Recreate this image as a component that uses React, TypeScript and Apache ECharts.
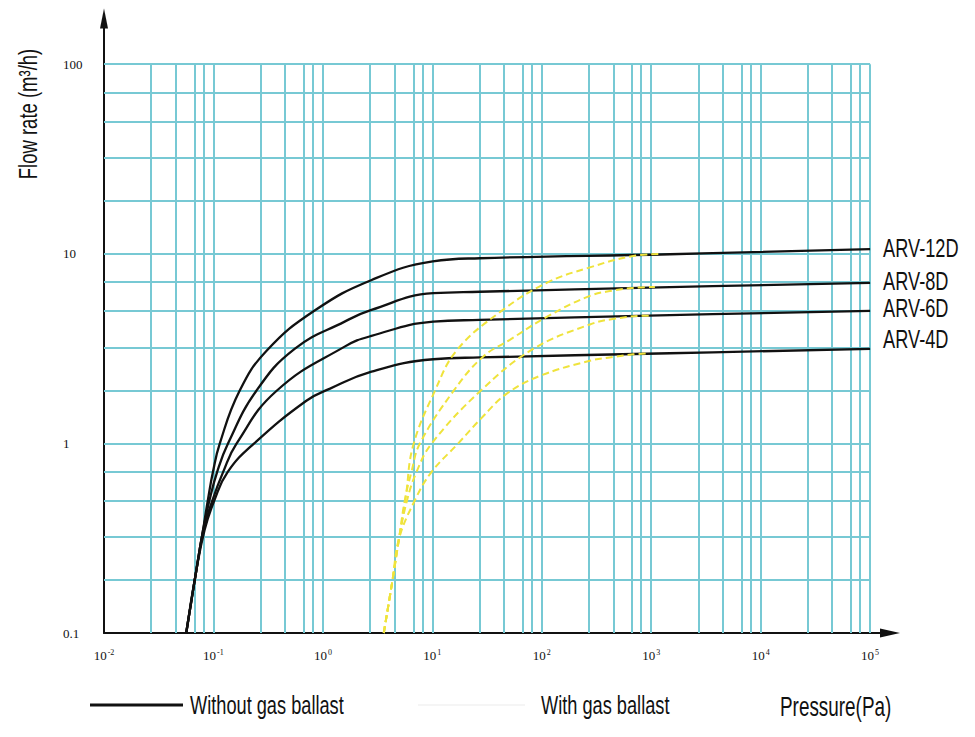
import React, { useEffect, useRef } from 'react';
import * as echarts from 'echarts';

// ---- tick labels ----
const xTickExponents = [-2, -1, 0, 1, 2, 3, 4, 5];
const yTickValues = [0.1, 1, 10, 100];
const yTickLabels = ['0.1', '1', '10', '100'];

// ---- grid (paper) lines ----
const xGridMultipliers = [2.7, 4.5, 6.7, 8.1, 10];
const xGridDecades = [0.01, 0.1, 1, 10, 100, 1000, 10000];
const yGridMultipliers = [1.9, 3.2, 5, 7.1, 10];
const yGridDecades = [0.1, 1, 10];

// ---- axis ranges ----
const xMin = 0.01;
const xGridMax = 100000;
const xMax = 152000; // room for the arrow
const yMin = 0.1;
const yGridMax = 100;
const yMax = 174.3; // room for the arrow

// ---- series ----
const models = ['ARV-12D', 'ARV-8D', 'ARV-6D', 'ARV-4D'];
const legendNames = ['Without gas ballast', 'With gas ballast'];

// Without gas ballast: [pressure Pa, flow rate m3/h]
const without12D: number[][] = [
  [0.0564, 0.1], [0.0687, 0.203], [0.0796, 0.338], [0.089, 0.504], [0.0989, 0.706],
  [0.114, 0.995], [0.173, 1.89], [0.306, 3.08], [0.841, 5.02], [2.79, 7.28],
  [10.1, 9.12], [27.2, 9.48], [1483, 9.95], [100000, 10.6],
];
const without8D: number[][] = [
  [0.0564, 0.1], [0.0687, 0.203], [0.0796, 0.338], [0.0922, 0.504], [0.108, 0.706],
  [0.1355, 0.995], [0.246, 1.89], [0.552, 3.15], [1.58, 4.39], [2.78, 5.06],
  [10.2, 6.2], [27.2, 6.31], [1483, 6.67], [100000, 7.03],
];
const without6D: number[][] = [
  [0.0564, 0.1], [0.0687, 0.203], [0.0812, 0.35], [0.0982, 0.504], [0.1225, 0.706],
  [0.162, 0.995], [0.376, 1.89], [1.58, 3.24], [2.78, 3.69], [10.2, 4.39],
  [27.2, 4.48], [1483, 4.75], [100000, 5.0],
];
const without4D: number[][] = [
  [0.0564, 0.1], [0.0687, 0.203], [0.083, 0.35], [0.1024, 0.504], [0.1347, 0.706],
  [0.233, 0.995], [0.706, 1.68], [1.15, 1.94], [2.78, 2.39], [10.2, 2.78],
  [27.2, 2.84], [1483, 2.99], [100000, 3.15],
];

// With gas ballast
const with12D: number[][] = [
  [3.6, 0.1], [4.32, 0.189], [4.96, 0.314], [5.72, 0.523], [6.67, 0.971],
  [10.5, 1.88], [16.8, 3.11], [42.9, 5.0], [111, 7.03], [275, 8.48], [685, 9.75],
  [1250, 9.99],
];
const with8D: number[][] = [
  [3.6, 0.1], [4.32, 0.189], [4.96, 0.314], [5.6, 0.5], [6.44, 0.706], [7.67, 0.995],
  [15.5, 1.88], [28.9, 2.86], [51.1, 3.52], [111, 4.65], [275, 6.0], [456, 6.41],
  [685, 6.61], [1081, 6.69],
];
const with6D: number[][] = [
  [3.6, 0.1], [4.32, 0.189], [4.96, 0.314], [5.87, 0.5], [7.16, 0.706], [9.82, 0.995],
  [27.2, 1.88], [83.4, 3.15], [275, 4.24], [456, 4.54], [828, 4.71], [1015, 4.72],
];
const with4D: number[][] = [
  [3.6, 0.1], [4.32, 0.189], [4.96, 0.314], [6.91, 0.5], [9.82, 0.706], [17.1, 0.995],
  [28.1, 1.36], [47.9, 1.83], [96, 2.27], [275, 2.73], [456, 2.86], [685, 2.95],
  [908, 2.98],
];

const withoutSeries = [without12D, without8D, without6D, without4D];
const withSeries = [with12D, with8D, with6D, with4D];
const modelLabelDy = [-1, -2, -3, -10];

const SANS = "'Liberation Sans', Arial, sans-serif";
const SERIF = "'Liberation Serif', 'Times New Roman', serif";
const GRID_COLOR = '#77c9d4';
const INK = '#111111';
const YELLOW = '#efe33c';
const CONDENSE = 0.7;

const isClose = (a: number, b: number) => Math.abs(a - b) < 1e-6;

const condensedText = (id: string, text: string, x: number, y: number, size: number, extra: any = {}) => ({
  type: 'text',
  id,
  x,
  y,
  scaleX: CONDENSE,
  silent: true,
  ...extra,
  style: {
    text,
    fontFamily: SANS,
    fontSize: size,
    fill: INK,
    align: 'left',
    verticalAlign: 'middle',
    ...(extra.style || {}),
  },
});

export default function App() {
  const ref = useRef<HTMLDivElement>(null);

  useEffect(() => {
    document.body.style.margin = '0';
    document.body.style.overflow = 'hidden';
    if (!ref.current) return;
    const chart = echarts.init(ref.current, null, { renderer: 'svg' });

    const verticalLines: any[] = [];
    xGridDecades.forEach((d) =>
      xGridMultipliers.forEach((m) => {
        const v = d * m;
        verticalLines.push({ coords: [[v, yMin], [v, yGridMax]] });
      })
    );
    const horizontalLines: any[] = [];
    yGridDecades.forEach((d) =>
      yGridMultipliers.forEach((m) => {
        const v = d * m;
        horizontalLines.push({ coords: [[xMin, v], [xGridMax, v]] });
      })
    );

    const gridStyle = { color: GRID_COLOR, width: 2, opacity: 1, type: 'solid' };
    const series: any[] = [
      { type: 'lines', name: 'grid-v', coordinateSystem: 'cartesian2d', polyline: false, silent: true, z: 1, lineStyle: gridStyle, data: verticalLines },
      { type: 'lines', name: 'grid-h', coordinateSystem: 'cartesian2d', polyline: false, silent: true, z: 1, lineStyle: gridStyle, data: horizontalLines },
    ];

    withoutSeries.forEach((data, i) => {
      series.push({
        type: 'line',
        name: legendNames[0],
        id: 'without-' + models[i],
        data,
        symbol: 'none',
        smooth: 0.45,
        silent: true,
        z: 3,
        lineStyle: { color: INK, width: 2.3 },
        itemStyle: { color: INK },
        emphasis: { disabled: true },
      });
    });

    withSeries.forEach((data, i) => {
      series.push({
        type: 'line',
        name: legendNames[1],
        id: 'with-' + models[i],
        data,
        symbol: 'none',
        smooth: 0.4,
        silent: true,
        z: 4,
        lineStyle: { color: YELLOW, width: 2, type: [7, 4] },
        itemStyle: { color: YELLOW },
        emphasis: { disabled: true },
      });
    });

    chart.setOption({
      animation: false,
      grid: { left: 104, right: 85, top: 18.5, bottom: 104, containLabel: false },
      xAxis: {
        type: 'log',
        logBase: 10,
        min: xMin,
        max: xMax,
        axisLine: {
          show: true,
          onZero: false,
          symbol: ['none', 'triangle'],
          symbolSize: [9, 20],
          lineStyle: { color: INK, width: 2 },
        },
        axisTick: { show: false },
        splitLine: { show: false },
        axisLabel: {
          margin: 15,
          showMaxLabel: true,
          formatter: (v: number) => {
            const e = Math.log10(v);
            const k = xTickExponents.find((t) => isClose(t, e));
            if (k === undefined) return '';
            return `{b|10}{s|${k}}`;
          },
          rich: {
            b: { fontFamily: SERIF, fontSize: 13, lineHeight: 15, color: INK },
            s: { fontFamily: SERIF, fontSize: 8, lineHeight: 15, verticalAlign: 'top', color: INK, padding: [0, 0, 0, 1] },
          },
        },
      },
      yAxis: {
        type: 'log',
        logBase: 10,
        min: yMin,
        max: yMax,
        axisLine: {
          show: true,
          onZero: false,
          symbol: ['none', 'triangle'],
          symbolSize: [8, 20],
          lineStyle: { color: INK, width: 2 },
        },
        axisTick: { show: false },
        splitLine: { show: false },
        axisLabel: {
          margin: 41,
          align: 'left',
          color: INK,
          fontFamily: SERIF,
          fontSize: 13,
          formatter: (v: number) => {
            const e = Math.log10(v);
            const idx = yTickValues.findIndex((t) => isClose(Math.log10(t), e));
            return idx < 0 ? '' : yTickLabels[idx];
          },
        },
      },
      series,
    });

    // Texts: axis titles, legend, and model labels placed at each curve's end via the chart's scales.
    const graphics: any[] = [
      condensedText('ytitle', 'Flow rate (m³/h)', 28, 114, 25, {
        rotation: Math.PI / 2,
        scaleX: 0.74,
        style: { align: 'center' },
      }),
      condensedText('xtitle', 'Pressure(Pa)', 780, 707, 27),
      {
        type: 'line',
        id: 'leg-line-0',
        silent: true,
        shape: { x1: 90, y1: 705, x2: 183, y2: 705 },
        style: { stroke: INK, lineWidth: 3 },
      },
      condensedText('leg-text-0', legendNames[0], 190, 705, 26),
      {
        type: 'line',
        id: 'leg-line-1',
        silent: true,
        shape: { x1: 418, y1: 705, x2: 525, y2: 705 },
        style: { stroke: '#ebebeb', lineWidth: 1 },
      },
      condensedText('leg-text-1', legendNames[1], 541, 705, 26),
    ];
    withoutSeries.forEach((data, i) => {
      const last = data[data.length - 1];
      const pt = chart.convertToPixel({ gridIndex: 0 }, last) as number[];
      if (pt && isFinite(pt[0]) && isFinite(pt[1])) {
        graphics.push(condensedText('model-' + i, models[i], pt[0] + 13, pt[1] + modelLabelDy[i], 26));
      }
    });
    chart.setOption({ graphic: graphics });

    return () => chart.dispose();
  }, []);

  return <div ref={ref} style={{ width: 975, height: 737 }} />;
}
